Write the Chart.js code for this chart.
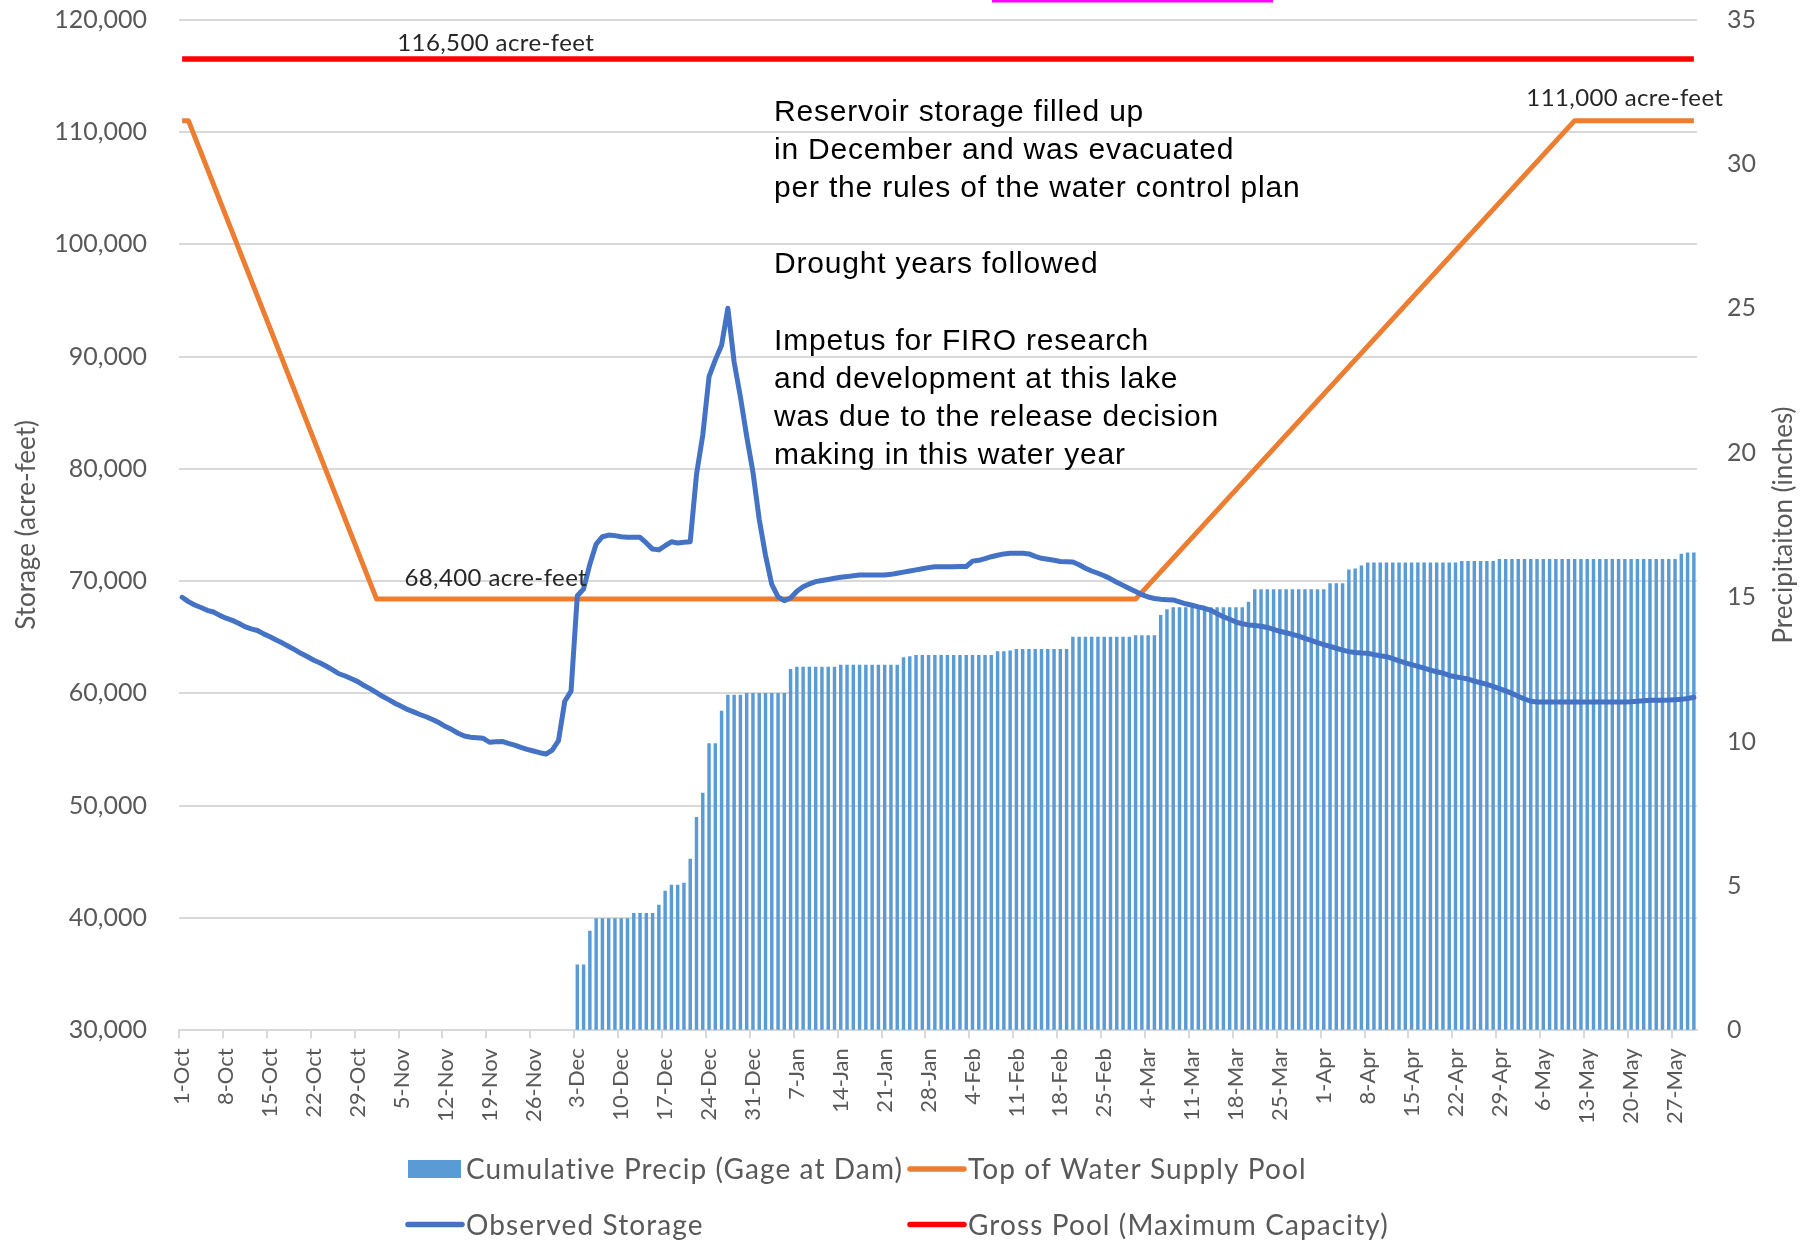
<!DOCTYPE html>
<html>
<head>
<meta charset="utf-8">
<script src="https://cdn.jsdelivr.net/npm/chart.js@4.4.1/dist/chart.umd.min.js"></script>
<style>
    html, body { margin: 0; padding: 0; background: #fff; }
    #wrap { width: 1809px; height: 1244px; }
</style>
</head>
<body>
<div id="wrap"><canvas id="chart" width="1809" height="1244"></canvas></div>
<script>
// daily categories, 1-Oct .. 30-May
const months = [["Oct", 31], ["Nov", 30], ["Dec", 31], ["Jan", 31], ["Feb", 28], ["Mar", 31], ["Apr", 30], ["May", 30]];
const categories = [];
months.forEach(([m, n]) => { for (let d = 1; d <= n; d++) categories.push(d + "-" + m); });

const tickLabels = ["1-Oct", "8-Oct", "15-Oct", "22-Oct", "29-Oct", "5-Nov", "12-Nov", "19-Nov", "26-Nov",
    "3-Dec", "10-Dec", "17-Dec", "24-Dec", "31-Dec", "7-Jan", "14-Jan", "21-Jan", "28-Jan", "4-Feb",
    "11-Feb", "18-Feb", "25-Feb", "4-Mar", "11-Mar", "18-Mar", "25-Mar", "1-Apr", "8-Apr", "15-Apr",
    "22-Apr", "29-Apr", "6-May", "13-May", "20-May", "27-May"];

// cumulative precip at the dam (inches), one value per day
const precip = [
    0, 0, 0, 0, 0, 0, 0, 0, 0, 0, 0, 0, 0, 0, 0, 0, 0, 0, 0, 0, 0, 0, 0, 0, 0, 0, 0, 0, 0, 0, 0,
    0, 0, 0, 0, 0, 0, 0, 0, 0, 0, 0, 0, 0, 0, 0, 0, 0, 0, 0, 0, 0, 0, 0, 0, 0, 0, 0, 0, 0, 0,
    // Dec
    0, 0, 2.28, 2.28, 3.45, 3.88, 3.88, 3.88, 3.88, 3.88, 3.88, 4.06, 4.06, 4.06, 4.06, 4.35,
    4.83, 5.04, 5.04, 5.11, 5.94, 7.39, 8.23, 9.94, 9.94, 11.07, 11.62, 11.62, 11.62, 11.68, 11.68,
    // Jan
    11.68, 11.68, 11.68, 11.68, 11.68, 12.51, 12.59, 12.59, 12.59, 12.59, 12.59, 12.59, 12.59,
    12.66, 12.66, 12.66, 12.66, 12.66, 12.66, 12.66, 12.66, 12.66, 12.66, 12.92, 12.95,
    13.0, 13.0, 13.0, 13.0, 13.0, 13.0,
    // Feb
    13.0, 13.0, 13.0, 13.0, 13.0, 13.0, 13.0, 13.13, 13.13, 13.15, 13.2, 13.2, 13.2, 13.2,
    13.2, 13.2, 13.2, 13.2, 13.2, 13.63, 13.63, 13.63, 13.63, 13.63, 13.63, 13.63, 13.63, 13.63,
    // Mar
    13.63, 13.68, 13.68, 13.68, 13.68, 14.38, 14.58, 14.65, 14.65, 14.65, 14.65, 14.65, 14.65,
    14.65, 14.65, 14.65, 14.65, 14.65, 14.65, 14.84, 15.27, 15.27, 15.27, 15.27, 15.27, 15.27,
    15.27, 15.27, 15.27, 15.27, 15.27,
    // Apr
    15.27, 15.48, 15.48, 15.48, 15.96, 15.99, 16.1, 16.2, 16.2, 16.2, 16.2, 16.2, 16.2, 16.2,
    16.2, 16.2, 16.2, 16.2, 16.2, 16.2, 16.2, 16.2, 16.25, 16.25, 16.25, 16.25, 16.25, 16.25,
    16.32, 16.32,
    // May
    16.32, 16.32, 16.32, 16.32, 16.32, 16.32, 16.32, 16.32, 16.32, 16.32, 16.32, 16.32, 16.32,
    16.32, 16.32, 16.32, 16.32, 16.32, 16.32, 16.32, 16.32, 16.32, 16.32, 16.32, 16.32, 16.32,
    16.32, 16.5, 16.55, 16.55
];

// observed storage (acre-feet), one value per day
const storage = [
    // Oct
    68560, 68170, 67870, 67650, 67400, 67250, 66950, 66700, 66500, 66250, 65950, 65750, 65600,
    65300, 65050, 64750, 64480, 64180, 63880, 63550, 63260, 62950, 62700, 62420, 62100, 61750,
    61550, 61300, 61050, 60700, 60400,
    // Nov
    60060, 59720, 59420, 59100, 58830, 58550, 58330, 58100, 57900, 57650, 57380, 57050, 56780,
    56450, 56200, 56100, 56050, 56000, 55650, 55700, 55720, 55550, 55400, 55200, 55020, 54870,
    54720, 54600, 54950, 55800,
    // Dec
    59300, 60200, 68700, 69300, 71500, 73300, 73950, 74100, 74050, 73950, 73900, 73900, 73900,
    73400, 72850, 72780, 73150, 73500, 73400, 73450, 73500, 79500, 83000, 88200, 89700, 91000,
    94300, 89500, 86400, 82900, 79700,
    // Jan
    75500, 72300, 69700, 68600, 68260, 68500, 69100, 69500, 69750, 69950, 70050, 70150, 70250,
    70340, 70400, 70480, 70540, 70550, 70550, 70550, 70550, 70600, 70700, 70800, 70900, 71000,
    71100, 71200, 71280, 71280, 71280,
    // Feb
    71280, 71290, 71300, 71780, 71850, 72000, 72170, 72300, 72420, 72470, 72480, 72480, 72420,
    72200, 72030, 71950, 71850, 71750, 71730, 71700, 71450, 71150, 70900, 70700, 70480, 70200,
    69900, 69620,
    // Mar
    69350, 69080, 68800, 68580, 68450, 68380, 68350, 68320, 68150, 67980, 67850, 67700, 67580,
    67400, 67100, 66830, 66600, 66350, 66200, 66100, 66050, 65980, 65870, 65700, 65530, 65400,
    65250, 65100, 64900, 64720, 64520,
    // Apr
    64350, 64180, 64020, 63850, 63720, 63650, 63600, 63580, 63450, 63350, 63270, 63100, 62900,
    62720, 62560, 62400, 62250, 62080, 61930, 61800, 61600, 61480, 61380, 61280, 61100, 60950,
    60800, 60620, 60420, 60220,
    // May
    60000, 59750, 59500, 59300, 59240, 59235, 59235, 59235, 59235, 59235, 59235, 59235, 59235,
    59235, 59235, 59235, 59235, 59235, 59240, 59250, 59300, 59350, 59380, 59390, 59400, 59410,
    59440, 59470, 59550, 59650
];

// top of water supply pool, read at its corners
const poolDays = ["1-Oct", "2-Oct", "1-Nov", "2-Mar", "11-May", "30-May"];
const poolValues = [111000, 111000, 68400, 68400, 111000, 111000];

// gross pool
const grossDays = ["1-Oct", "30-May"];
const grossValues = [116500, 116500];

// value call-outs
const calloutTexts = ["116,500 acre-feet", "68,400 acre-feet", "111,000 acre-feet"];
const calloutDays = ["20-Nov", "20-Nov", "19-May"];
const calloutValues = [116500, 68400, 111000];
const calloutRaise = [16, 21, 22];

const noteLines = [
    "Reservoir storage filled up",
    "in December and was evacuated",
    "per the rules of the water control plan",
    "",
    "Drought years followed",
    "",
    "Impetus for FIRO research",
    "and development at this lake",
    "was due to the release decision",
    "making in this water year"
];

const grey = "#595959";
const gridGrey = "#d9d9d9";
Chart.defaults.font.family = "Lato";
Chart.defaults.color = grey;

const extras = {
    id: "extras",
    afterDatasetsDraw(chart) {
        const { ctx } = chart;
        const xs = chart.scales.x, ys = chart.scales.y;

        ctx.save();
        ctx.font = "24px Lato";
        ctx.fillStyle = "#262626";
        ctx.textAlign = "center";
        ctx.textBaseline = "middle";
        ctx.letterSpacing = "0.4px";
        calloutTexts.forEach((t, i) => {
            const px = xs.getPixelForValue(categories.indexOf(calloutDays[i]));
            const py = ys.getPixelForValue(calloutValues[i]) - calloutRaise[i];
            ctx.fillText(t, px, py);
        });
        ctx.restore();

        ctx.save();
        ctx.font = '30px "Liberation Sans"';
        ctx.fillStyle = "#000";
        ctx.textAlign = "left";
        ctx.textBaseline = "alphabetic";
        ctx.letterSpacing = "0.8px";
        noteLines.forEach((line, k) => ctx.fillText(line, 774, 121 + 38.1 * k));
        ctx.restore();
    },
    afterDraw(chart) {
        const { ctx } = chart;
        const ds = chart.data.datasets;

        // secondary axis title reads bottom-to-top like Excel
        ctx.save();
        ctx.translate(1783.5, 525);
        ctx.rotate(-Math.PI / 2);
        ctx.font = "26px Lato";
        ctx.fillStyle = grey;
        ctx.textAlign = "center";
        ctx.textBaseline = "middle";
        ctx.fillText("Precipitaiton (inches)", 0, 0);
        ctx.restore();

        // edge of a box cut off at the top
        ctx.fillStyle = "#ff00ff";
        ctx.fillRect(992, 0, 281, 2.5);

        // legend, 2 x 2
        const cells = [[0, 408, 1169], [1, 910, 1169], [2, 408, 1224.5], [3, 910, 1224.5]];
        ctx.save();
        ctx.font = "28px Lato";
        ctx.letterSpacing = "1.1px";
        ctx.textBaseline = "middle";
        cells.forEach(([i, lx, ly]) => {
            const d = ds[i];
            if (d.type === "line") {
                ctx.strokeStyle = d.borderColor;
                ctx.lineWidth = 5.5;
                ctx.lineCap = "round";
                ctx.beginPath();
                ctx.moveTo(lx, ly);
                ctx.lineTo(lx + 54, ly);
                ctx.stroke();
            } else {
                ctx.fillStyle = d.backgroundColor;
                ctx.fillRect(lx, ly - 9, 53, 18);
            }
            ctx.fillStyle = grey;
            ctx.fillText(d.label, lx + 58, ly + 1);
        });
        ctx.restore();
    }
};

const asPoints = (days, vals) => days.map((d, i) => ({ x: d, y: vals[i] }));

// keep the tick-label half heights from pushing the plot down
const noVertPad = (s) => { s.paddingTop = 0; s.paddingBottom = 0; };

new Chart(document.getElementById("chart"), {
    type: "bar",
    data: {
        labels: categories,
        datasets: [
            { type: "bar", label: "Cumulative Precip (Gage at Dam)", data: precip, yAxisID: "y1",
              backgroundColor: "#5b9bd5", borderWidth: 0, barPercentage: 0.55, categoryPercentage: 1, order: 4 },
            { type: "line", label: "Top of Water Supply Pool", data: asPoints(poolDays, poolValues), yAxisID: "y",
              borderColor: "#ed7d31", borderWidth: 5, pointRadius: 0, tension: 0, borderJoinStyle: "round", order: 3 },
            { type: "line", label: "Observed Storage", data: storage, yAxisID: "y",
              borderColor: "#4472c4", borderWidth: 5, pointRadius: 0, tension: 0, borderJoinStyle: "round",
              borderCapStyle: "round", order: 2 },
            { type: "line", label: "Gross Pool (Maximum Capacity)", data: asPoints(grossDays, grossValues), yAxisID: "y",
              borderColor: "#ff0000", borderWidth: 5.5, pointRadius: 0, order: 1 }
        ]
    },
    options: {
        responsive: false,
        animation: false,
        devicePixelRatio: 1,
        events: [],
        layout: { padding: { top: 19.6, left: 0, right: 0, bottom: 0 } },
        plugins: { legend: { display: false }, tooltip: { enabled: false } },
        scales: {
            x: {
                offset: true,
                border: { display: true, color: gridGrey, width: 2 },
                grid: {
                    offset: true,
                    drawOnChartArea: false,
                    drawTicks: true,
                    tickLength: 8,
                    lineWidth: 2,
                    color: (c) => tickLabels.includes(categories[c.index]) ? gridGrey : "rgba(0,0,0,0)"
                },
                ticks: {
                    autoSkip: false,
                    minRotation: 90,
                    maxRotation: 90,
                    padding: 10,
                    color: grey,
                    font: { size: 22 },
                    callback: (v, i) => tickLabels.includes(categories[i]) ? categories[i] : ""
                },
                afterFit: (s) => { s.height = 213.7; }
            },
            y: {
                position: "left",
                min: 30000,
                max: 120000,
                border: { display: false },
                grid: { color: gridGrey, lineWidth: 2, drawTicks: false },
                ticks: {
                    stepSize: 10000,
                    padding: 32,
                    color: grey,
                    font: { size: 25 },
                    callback: (v) => v.toLocaleString("en-US")
                },
                title: {
                    display: true,
                    text: "Storage (acre-feet)",
                    color: grey,
                    font: { size: 26 },
                    padding: { top: 11, bottom: 0 }
                },
                afterFit: (s) => { s.width = 179; noVertPad(s); }
            },
            y1: {
                position: "right",
                min: 0,
                max: 35,
                border: { display: false },
                grid: { drawOnChartArea: false, drawTicks: false },
                ticks: { stepSize: 5, padding: 30, color: grey, font: { size: 25 } },
                afterFit: (s) => { s.width = 112; noVertPad(s); }
            }
        }
    },
    plugins: [extras]
});
</script>
</body>
</html>
